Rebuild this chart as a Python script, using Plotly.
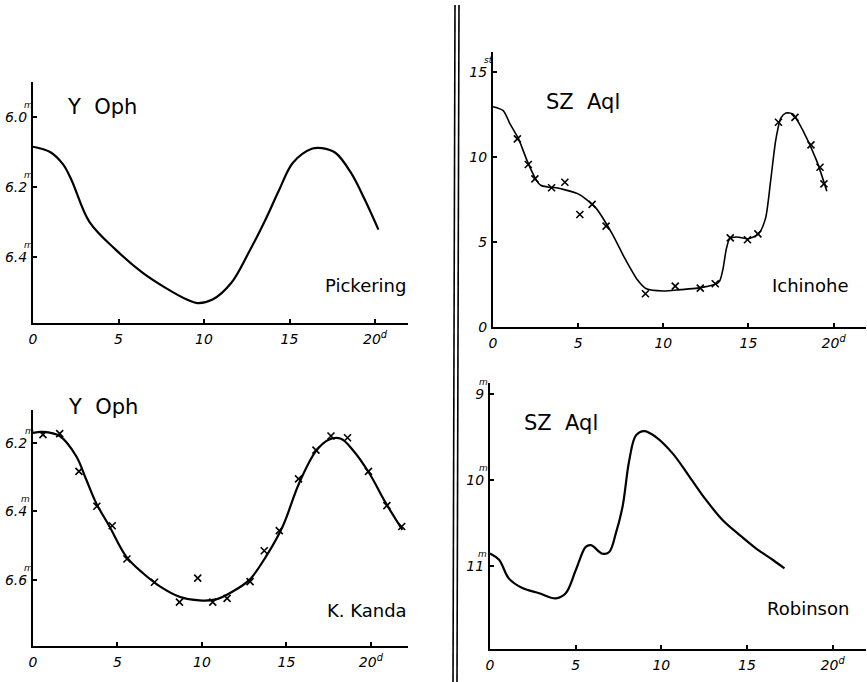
import plotly.graph_objects as go

W, H = 867, 682

# ---------------- data ----------------
# Panel A: Y Oph (Pickering) - smooth light curve
pick_day = [0, 1.0, 1.75, 2.25, 3.3, 4.85, 6.4, 7.8, 9.0, 9.6, 10.5, 11.6, 12.6, 13.6, 14.4,
            15.2, 16.3, 16.9, 17.7, 18.6, 19.4, 20.2]
pick_mag = [6.085, 6.10, 6.135, 6.18, 6.30, 6.38, 6.445, 6.49, 6.522, 6.532, 6.522, 6.474, 6.389,
            6.293, 6.208, 6.131, 6.091, 6.089, 6.103, 6.16, 6.236, 6.322]

# Panel B: Y Oph (K. Kanda) - observations and fitted curve
kanda_obs_day = [0.59, 1.58, 2.72, 3.78, 4.69, 5.56, 7.19, 8.67, 9.75, 10.64, 11.49, 12.85, 13.69,
                 14.58, 15.72, 16.75, 17.64, 18.62, 19.86, 20.95, 21.83]
kanda_obs_mag = [6.176, 6.173, 6.283, 6.385, 6.442, 6.539, 6.607, 6.665, 6.595, 6.665, 6.654, 6.605,
                 6.515, 6.456, 6.305, 6.221, 6.180, 6.185, 6.283, 6.383, 6.444]
kanda_fit_day = [0, 0.59, 1.58, 2.56, 3.15, 3.74, 4.53, 5.52, 6.5, 7.49, 8.67, 9.85, 10.84, 11.82,
                 12.81, 13.79, 14.78, 15.76, 16.75, 17.54, 18.23, 18.92, 19.9, 20.89, 21.87]
kanda_fit_mag = [6.171, 6.168, 6.18, 6.239, 6.307, 6.376, 6.444, 6.532, 6.58, 6.618, 6.649, 6.66,
                 6.657, 6.634, 6.60, 6.532, 6.444, 6.317, 6.224, 6.19, 6.188, 6.22, 6.288, 6.376, 6.454]

# Panel C: SZ Aql (Ichinohe) - step estimates
ichi_obs_day = [1.43, 2.07, 2.46, 3.44, 4.22, 5.1, 5.82, 6.64, 8.95, 10.7, 12.17, 13.05, 13.93,
                14.94, 15.55, 16.76, 17.73, 18.67, 19.2, 19.43]
ichi_obs_val = [11.08, 9.57, 8.73, 8.2, 8.53, 6.63, 7.22, 5.94, 1.96, 2.41, 2.29, 2.55, 5.25,
                5.14, 5.49, 12.06, 12.35, 10.73, 9.41, 8.43]
ichi_fit_day = [0, 0.6, 1.0, 1.5, 2.0, 2.5, 2.8, 3.2, 3.6, 4.0, 5.0, 6.0, 7.0, 7.7, 8.5, 9.0, 10.0,
                11.0, 12.0, 13.0, 13.3, 13.5, 13.7, 13.9, 14.3, 15.0, 15.6, 16.0, 16.3, 16.6, 16.9,
                17.2, 17.6, 18.2, 19.0, 19.6]
ichi_fit_val = [12.98, 12.75, 11.96, 11.08, 9.8, 8.73, 8.35, 8.25, 8.22, 8.14, 7.84, 7.06, 5.49, 4.12,
                2.75, 2.25, 2.12, 2.2, 2.29, 2.5, 2.7, 3.4, 4.6, 5.2, 5.3, 5.2, 5.5, 6.4, 8.6,
                11.0, 12.3, 12.6, 12.55, 11.57, 9.8, 8.0]

# Panel D: SZ Aql (Robinson) - smooth light curve
rob_day = [0, 0.53, 1.11, 1.89, 2.87, 3.84, 4.42, 5.01, 5.59, 5.89, 6.57, 6.96, 7.35, 7.74, 8.13,
           8.52, 9.0, 9.69, 10.66, 11.64, 12.6, 13.59, 14.56, 15.54, 16.5, 17.19]
rob_mag = [10.856, 10.93, 11.15, 11.26, 11.32, 11.38, 11.32, 11.05, 10.78, 10.76, 10.86, 10.84,
           10.62, 10.31, 9.77, 9.48, 9.43, 9.50, 9.69, 9.96, 10.23, 10.47, 10.64, 10.80, 10.93, 11.03]

# tick labels
day_ticks = [0, 5, 10, 15, 20]
day_ticktext = ["0", "5", "10", "15", "20<sup>d</sup>"]
yoph_a_ticks = [6.0, 6.2, 6.4]
yoph_b_ticks = [6.2, 6.4, 6.6]
ichi_ticks = [0, 5, 10, 15]
rob_ticks = [9, 10, 11]

# ---------------- layout helpers ----------------
def fx(p):
    return p / W

def fy(p):
    return 1 - p / H

INK = "black"
tickfont = dict(family="DejaVu Sans", size=14, color=INK, style="italic")

def xaxis_cfg(x0, x1, rng, anchor):
    return dict(domain=[fx(x0), fx(x1)], range=rng, anchor=anchor, automargin=False,
                showline=True, linecolor=INK, linewidth=2,
                showgrid=False, zeroline=False,
                ticks="inside", ticklen=4, tickwidth=1.5, tickcolor=INK,
                tickvals=day_ticks, ticktext=day_ticktext, tickfont=tickfont,
                ticklabelstandoff=2)

def yaxis_cfg(ytop, ybot, rng, anchor, ticks, ticktext):
    return dict(domain=[fy(ybot), fy(ytop)], range=rng, anchor=anchor, automargin=False,
                showline=True, linecolor=INK, linewidth=2,
                showgrid=False, zeroline=False,
                ticks="inside", ticklen=4, tickwidth=1.5, tickcolor=INK,
                tickvals=ticks, ticktext=ticktext, tickfont=tickfont,
                ticklabelstandoff=1)

fig = go.Figure()

curve = dict(color=INK, width=2.2, shape="spline", smoothing=1.0)
mk = dict(symbol="x-thin", size=7, color=INK, line=dict(color=INK, width=1.6))

fig.add_trace(go.Scatter(x=pick_day, y=pick_mag, mode="lines", line=curve,
                         xaxis="x", yaxis="y", name="Pickering"))
fig.add_trace(go.Scatter(x=kanda_fit_day, y=kanda_fit_mag, mode="lines", line=curve,
                         xaxis="x2", yaxis="y2", name="Kanda curve"))
fig.add_trace(go.Scatter(x=kanda_obs_day, y=kanda_obs_mag, mode="markers", marker=mk,
                         xaxis="x2", yaxis="y2", name="Kanda obs"))
fig.add_trace(go.Scatter(x=ichi_fit_day, y=ichi_fit_val, mode="lines",
                         line=dict(color=INK, width=1.6, shape="spline", smoothing=0.7),
                         xaxis="x3", yaxis="y3", name="Ichinohe curve"))
fig.add_trace(go.Scatter(x=ichi_obs_day, y=ichi_obs_val, mode="markers", marker=mk,
                         xaxis="x3", yaxis="y3", name="Ichinohe obs"))
fig.add_trace(go.Scatter(x=rob_day, y=rob_mag, mode="lines", line=curve,
                         xaxis="x4", yaxis="y4", name="Robinson"))

fig.update_layout(
    template="none",
    width=W, height=H, margin=dict(l=0, r=0, t=0, b=0, autoexpand=False),
    paper_bgcolor="white", plot_bgcolor="rgba(0,0,0,0)",
    showlegend=False,
    xaxis=xaxis_cfg(33, 408, [0, 21.93], "y"),
    yaxis=yaxis_cfg(82, 323, [6.589, 5.9], "x", yoph_a_ticks, [f"{v:.1f}" for v in yoph_a_ticks]),
    xaxis2=xaxis_cfg(33, 408, [0, 22.2], "y2"),
    yaxis2=yaxis_cfg(410, 646, [6.793, 6.104], "x2", yoph_b_ticks, [f"{v:.1f}" for v in yoph_b_ticks]),
    xaxis3=xaxis_cfg(493, 866, [0, 21.9], "y3"),
    yaxis3=yaxis_cfg(52, 327, [0, 16.2], "x3", ichi_ticks, [str(v) for v in ichi_ticks]),
    xaxis4=xaxis_cfg(490, 866, [0, 21.95], "y4"),
    yaxis4=yaxis_cfg(383, 649, [11.97, 8.87], "x4", rob_ticks, [str(v) for v in rob_ticks]),
)

# superscript unit marks above y tick labels
def unit_marks(yref, ticks, xs, text):
    for v, xp in zip(ticks, xs):
        fig.add_annotation(x=fx(xp), y=v, xref="paper", yref=yref, text=text,
                           showarrow=False, yshift=12,
                           font=dict(family="DejaVu Sans", size=9, color=INK, style="italic"))

unit_marks("y", yoph_a_ticks, [22, 22, 22], "m")
unit_marks("y2", yoph_b_ticks, [23, 19, 22], "m")
unit_marks("y3", ichi_ticks[-1:], [488], "st")
unit_marks("y4", rob_ticks, [483, 483, 482], "m")

# panel titles and observer names
label_font = dict(family="DejaVu Sans", size=21, color=INK)
sz_font = dict(family="DejaVu Sans", size=21, color=INK)
name_font = dict(family="DejaVu Sans", size=18, color=INK)
texts = [
    ("Y  Oph", 102, 107, label_font),
    ("Pickering", 365, 285, name_font),
    ("Y  Oph", 103, 407, label_font),
    ("K. Kanda", 367, 610, name_font),
    ("SZ  Aql", 583, 102, sz_font),
    ("Ichinohe", 810, 285, name_font),
    ("SZ  Aql", 561, 423, sz_font),
    ("Robinson", 808, 608, name_font),
]
for t, xp, yp, f in texts:
    fig.add_annotation(x=fx(xp), y=fy(yp), xref="paper", yref="paper", text=t,
                       showarrow=False, font=f, xanchor="center", yanchor="middle")

# double separator rule between the left and right columns
for xp in (455, 459):
    fig.add_shape(type="line", xref="paper", yref="paper",
                  x0=fx(xp), x1=fx(xp - 2), y0=fy(5), y1=fy(682),
                  line=dict(color=INK, width=1.6))

fig.write_html(
    "out.html",
    config={"responsive": False, "displayModeBar": False},
    post_script="document.body.style.margin='0';document.body.style.overflow='hidden';",
)
